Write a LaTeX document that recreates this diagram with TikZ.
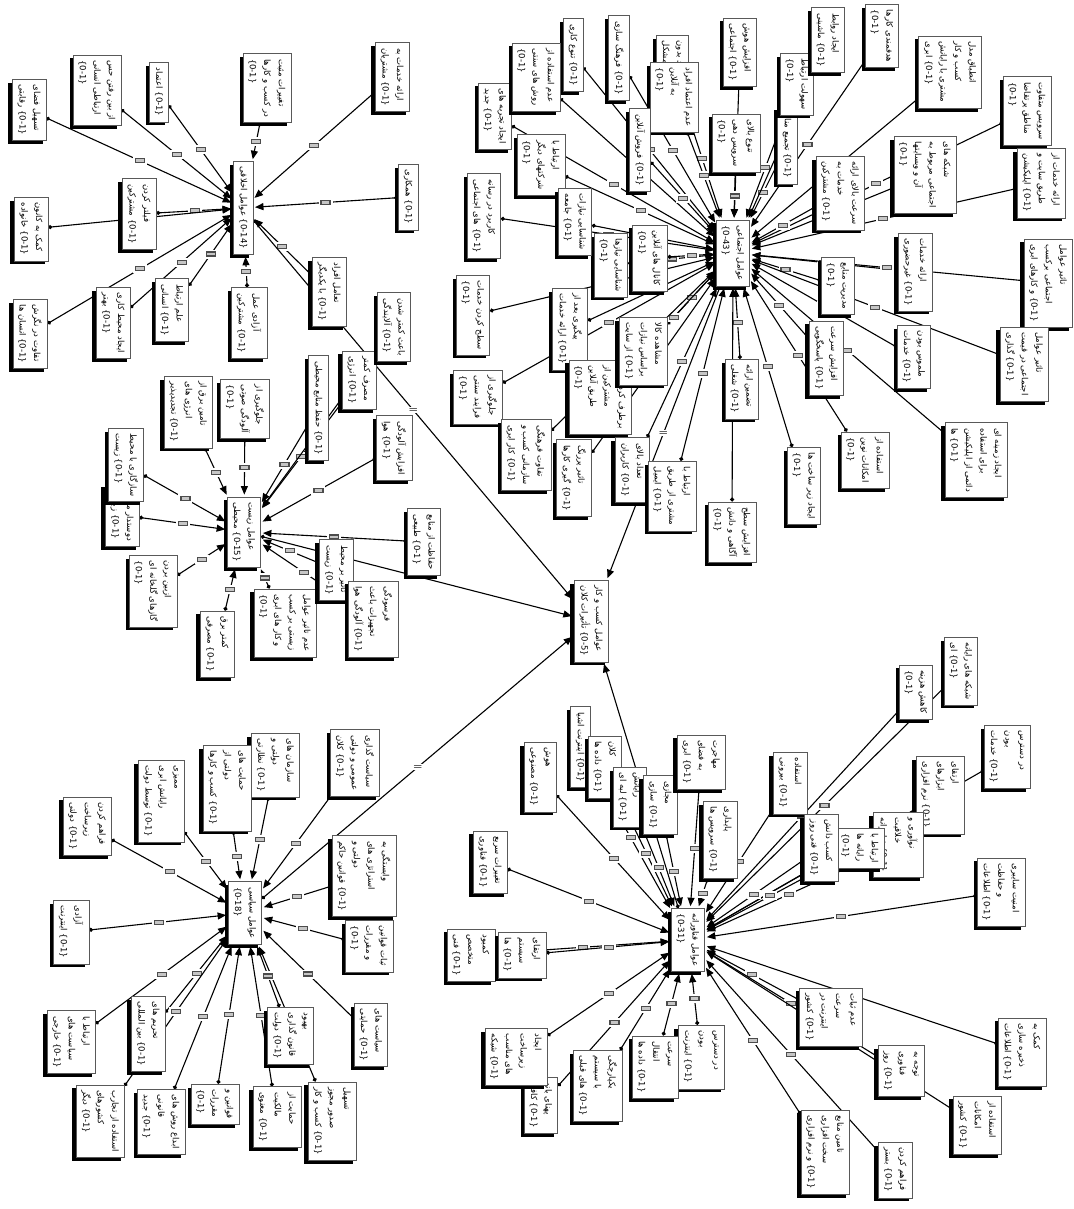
\documentclass[tikz,border=0pt]{standalone}
\usepackage{fontspec}
\newfontfamily\fafont[Script=Arabic]{DejaVu Sans}
\TeXXeTstate=1
\usetikzlibrary{arrows.meta,shadows}
\pgfdeclarelayer{bg}
\pgfsetlayers{bg,main}
\newcommand\FA[1]{\beginR #1\endR}
\tikzset{
  code/.style={draw=black!65, fill=white, rotate=-90, align=left, inner sep=5.5pt,
    font=\fafont\fontsize{8.5}{14.5}\selectfont,
    drop shadow={shadow xshift=-3.5pt, shadow yshift=-3.5pt, fill=black, opacity=1}},
  link/.style={{Circle[length=4pt]}-{Triangle[length=8.5pt,width=7pt]}, line width=1.1pt, shorten >=2pt},
  rel/.style={draw=black!70, fill=gray!45, minimum width=9pt, minimum height=4pt, inner sep=0pt, preaction={draw=white, line width=5pt}},
  eqrel/.style={fill=white, inner sep=1pt, font=\bfseries}
}
\begin{document}
\begin{tikzpicture}[x=1pt,y=-1pt]
\useasboundingbox (0,0) rectangle (1073,1209);

% hubs
\node[code] (akhl) at (243,208) {\FA{عوامل اخلاقی} \{0-14\}};
\node[code] (ejt) at (733,253) {\FA{عوامل اجتماعی}\\\{0-43\}};
\node[code] (zist) at (244,532) {\FA{عوامل زیست}\\\FA{محیطی} \{0-15\}};
\node[code] (siasi) at (245,913) {\FA{عوامل سیاسی}\\\{0-18\}};
\node[code] (fan) at (688,940) {\FA{عوامل فناورانه}\\\{0-31\}};
\node[code] (kol) at (591,621) {\FA{عوامل کسب و کار}\\\FA{تأثیرات کلان} \{0-5\}};

% akhlaghi
\node[code] (a1) at (29,110) {\FA{تسهیل فضای}\\\FA{رقابتی} \{0-1\}};
\node[code] (a2) at (97,90) {\FA{از بین رفتن حس}\\\FA{ارتباطی انسانی}\\\{0-1\}};
\node[code] (a3) at (159,92) {\FA{اعتماد} \{0-1\}};
\node[code] (a4) at (267,88) {\FA{تغییرات مثبت}\\\FA{در کسب و کارها}\\\{0-1\}};
\node[code] (a5) at (392,77) {\FA{ارائه خدمات به}\\\FA{مشتریان} \{0-1\}};
\node[code] (a6) at (408,197) {\FA{همکاری} \{0-1\}};
\node[code] (a7) at (139,214) {\FA{فیلتر کردن}\\\FA{مشترکین} \{0-1\}};
\node[code] (a8) at (31,229) {\FA{کمک به کانون}\\\FA{خانواده} \{0-1\}};
\node[code] (a9) at (30,334) {\FA{تفاوت در نگرش}\\\FA{انسان ها} \{0-1\}};
\node[code] (a10) at (113,323) {\FA{ایجاد محیط کاری}\\\FA{بهتر} \{0-1\}};
\node[code] (a11) at (172,310) {\FA{علم ارتباط}\\\FA{انسانی} \{0-1\}};
\node[code] (a12) at (249,323) {\FA{آزادی عمل}\\\FA{مشترکین} \{0-1\}};
\node[code] (a13) at (329,292) {\FA{تعامل افراد}\\\FA{با یکدیگر} \{0-1\}};

% ejtemaei
\node[code] (e1) at (573,55) {\FA{تنوع کاری} \{0-1\}};
\node[code] (e3) at (495,116) {\FA{ایجاد تجربه های}\\\FA{جدید} \{0-1\}};
\node[code] (e2) at (536,77) {\FA{عدم استفاده از}\\\FA{روش های سنتی}\\\{0-1\}};
\node[code] (e4) at (619,58) {\FA{فرهنگ سازی} \{0-1\}};
\node[code] (e5) at (672,66) {\FA{خرید بدون}\\\FA{مشکل} \{0-1\}};
\node[code] (e6) at (674,97) {\FA{عدم اعتماد افراد}\\\FA{به آنلاین}\\\{0-1\}};
\node[code] (e7) at (740,52) {\FA{افزایش هوش}\\\FA{اجتماعی} \{0-1\}};
\node[code] (e8) at (736,143) {\FA{تنوع بالای}\\\FA{سرویس دهی}\\\{0-1\}};
\node[code] (e9) at (787,145) {\FA{تجمیع منابع} \{0-1\}};
\node[code] (e10) at (797,84) {\FA{سهولت ارتباط}\\\{0-1\}};
\node[code] (e11) at (828,40) {\FA{ایجاد روابط}\\\FA{ماشینی} \{0-1\}};
\node[code] (e12) at (882,36) {\FA{هدفمندی کارها}\\\{0-1\}};
\node[code] (e13) at (950,72) {\FA{انطباق مدل}\\\FA{کسب و کار}\\\FA{مشتری با رایانش}\\\FA{ابری} \{0-1\}};
\node[code] (e14) at (1027,111) {\FA{سرویس متفاوت}\\\FA{مناطق پرتقاضا}\\\{0-1\}};
\node[code] (e15) at (925,175) {\FA{شبکه های}\\\FA{اجتماعی مربوط به}\\\FA{آن و وبسایتها}\\\{0-1\}};
\node[code] (e16) at (1041,183) {\FA{ارائه خدمات از}\\\FA{طریق سایت و}\\\FA{اپلیکیشن} \{0-1\}};
\node[code] (e17) at (840,193) {\FA{سرعت بالای ارائه}\\\FA{خدمات به}\\\FA{مشترکین} \{0-1\}};
\node[code] (e18) at (915,272) {\FA{ارائه خدمات}\\\FA{غیرحضوری} \{0-1\}};
\node[code] (e19) at (1048,283) {\FA{تاثیر عوامل}\\\FA{اجتماعی برکسب}\\\FA{و کارهای ابری} \{0-1\}};
\node[code] (e20) at (838,286) {\FA{مدیریت منابع}\\\{0-1\}};
\node[code] (e21) at (914,357) {\FA{ملموس بودن}\\\FA{خدمات} \{0-1\}};
\node[code] (e22) at (1024,364) {\FA{تاثیر عوامل}\\\FA{اجتماعی در قیمت}\\\FA{گذاری} \{0-1\}};
\node[code] (e23) at (826,358) {\FA{افزایش سرعت}\\\FA{پاسخگویی} \{0-1\}};
\node[code] (e24) at (865,460) {\FA{استفاده از}\\\FA{امکانات نوین}\\\{0-1\}};
\node[code] (e25) at (976,460) {\FA{ایجاد زمینه ای}\\\FA{برای استفاده}\\\FA{دائمی از اپلیکیشن}\\\FA{ها} \{0-1\}};
\node[code] (e26) at (804,486) {\FA{ایجاد زیر ساخت ها}\\\{0-1\}};
\node[code] (e27) at (541,165) {\FA{ارتباط با}\\\FA{شرکتهای دیگر}\\\{0-1\}};
\node[code] (e28) at (640,150) {\FA{فروش آنلاین} \{0-1\}};
\node[code] (e29) at (484,216) {\FA{کاربرد در رسانه}\\\FA{های اجتماعی} \{0-1\}};
\node[code] (e31) at (611,265) {\FA{شناسایی نیازها}\\\{0-1\}};
\node[code] (e30) at (575,222) {\FA{شناسایی نیازات}\\\FA{جامعه} \{0-1\}};
\node[code] (e32) at (650,258) {\FA{کانال های آنلاین}\\\{0-1\}};
\node[code] (e33) at (473,315) {\FA{سطح کردن خدمات}\\\{0-1\}};
\node[code] (e34) at (570,329) {\FA{پیگیری بعد از}\\\FA{ارائه خدمات} \{0-1\}};
\node[code] (e37) at (600,397) {\FA{برطرف کردن نیاز}\\\FA{مشترکین از}\\\FA{طریق آنلاین}\\\{0-1\}};
\node[code] (e35) at (643,351) {\FA{مشاهده کالا}\\\FA{براساس نیازات}\\\FA{از سایت} \{0-1\}};
\node[code] (e36) at (478,397) {\FA{جلوگیری از}\\\FA{فرایند سنتی}\\\{0-1\}};
\node[code] (e38) at (526,455) {\FA{تفاوت فرهنگی}\\\FA{سازمانی کسب و}\\\FA{کار ابری} \{0-1\}};
\node[code] (e39) at (574,478) {\FA{تاثیر پررنگ}\\\FA{گیری کارها} \{0-1\}};
\node[code] (e40) at (632,470) {\FA{تعداد بالای}\\\FA{کاربران} \{0-1\}};
\node[code] (e41) at (672,496) {\FA{ارتباط با}\\\FA{مشتری از طریق}\\\FA{ایمیل} \{0-1\}};
\node[code] (e42) at (742,389) {\FA{تضمین ارائه}\\\FA{شغلی} \{0-1\}};
\node[code] (e43) at (732,532) {\FA{افزایش سطح}\\\FA{آگاهی و دانش}\\\{0-1\}};

% zist mohiti
\node[code] (z1) at (188,412) {\FA{تامین برق از}\\\FA{انرژی های}\\\FA{تجدیدپذیر} \{0-1\}};
\node[code] (z2) at (245,409) {\FA{جلوگیری از}\\\FA{آلودگی صوتی}\\\{0-1\}};
\node[code] (z3) at (318,408) {\FA{حفظ منابع محیطی} \{0-1\}};
\node[code] (z4) at (359,380) {\FA{مصرف کمتر}\\\FA{انرژی} \{0-1\}};
\node[code] (z5) at (394,327) {\FA{باعث کمتر شدن}\\\FA{آلایندگی} \{0-1\}};
\node[code] (z6) at (394,448) {\FA{افزایش آلودگی}\\\FA{هوا} \{0-1\}};
\node[code] (z8) at (122,515) {\FA{دوستدار محیط}\\\FA{زیست} \{0-1\}};
\node[code] (z7) at (126,465) {\FA{سازگاری با محیط}\\\FA{زیست} \{0-1\}};
\node[code] (z9) at (153,591) {\FA{ازبین بردن}\\\FA{گازهای گلخانه ای}\\\{0-1\}};
\node[code] (z10) at (217,644) {\FA{کمتر برق}\\\FA{مصرفی} \{0-1\}};
\node[code] (z11) at (285,623) {\FA{عدم تاثیر عوامل}\\\FA{زیستی بر کسب}\\\FA{و کار های ابری}\\\{0-1\}};
\node[code] (z12) at (336,570) {\FA{تاثیر بر محیط}\\\FA{زیست} \{0-1\}};
\node[code] (z13) at (373,619) {\FA{فرسودگی}\\\FA{تجهیزات باعث}\\\FA{آلودگی هوا} \{0-1\}};
\node[code] (z14) at (424,542) {\FA{حفاظت از منابع}\\\FA{طبیعی} \{0-1\}};

% siasi
\node[code] (s1) at (355,763) {\FA{سیاست گذاری}\\\FA{عمومی و دولتی}\\\FA{کلان} \{0-1\}};
\node[code] (s2) at (275,765) {\FA{سازمان های}\\\FA{دولتی و}\\\FA{نظارتی} \{0-1\}};
\node[code] (s3) at (227,788) {\FA{حمایت های}\\\FA{دولتی از}\\\FA{کسب و کارها} \{0-1\}};
\node[code] (s4) at (161,801) {\FA{ممیزی}\\\FA{رایانش ابری}\\\FA{توسط دولت} \{0-1\}};
\node[code] (s5) at (87,826) {\FA{فراهم کردن}\\\FA{زیرساخت}\\\FA{دولتی} \{0-1\}};
\node[code] (s6) at (71,932) {\FA{آزادی}\\\FA{اینترنت} \{0-1\}};
\node[code] (s7) at (71,1042) {\FA{ارتباط با}\\\FA{سیاست های}\\\FA{خارجی} \{0-1\}};
\node[code] (s8) at (148,1034) {\FA{تحریم های}\\\FA{بین المللی} \{0-1\}};
\node[code] (s9) at (100,1121) {\FA{استفاده از تجارب}\\\FA{کشورهای}\\\FA{دیگر} \{0-1\}};
\node[code] (s10) at (161,1122) {\FA{ابداع روش های}\\\FA{قانونی}\\\FA{جدید} \{0-1\}};
\node[code] (s11) at (215,1104) {\FA{قوانین و}\\\FA{مقررات}\\\{0-1\}};
\node[code] (s12) at (277,1117) {\FA{حمایت از}\\\FA{مالکیت}\\\FA{معنوی} \{0-1\}};
\node[code] (s13) at (332,1121) {\FA{تسهیل}\\\FA{صدور مجوز}\\\FA{کسب و کار} \{0-1\}};
\node[code] (s14) at (290,1036) {\FA{بهبود}\\\FA{قانون گذاری}\\\FA{دولت} \{0-1\}};
\node[code] (s15) at (371,1035) {\FA{سیاست های}\\\FA{حمایتی} \{0-1\}};
\node[code] (s16) at (369,946) {\FA{ثبات قوانین}\\\FA{و مقررات}\\\{0-1\}};
\node[code] (s17) at (364,876) {\FA{وابستگی به}\\\FA{استراتژی های}\\\FA{دولتی و}\\\FA{قوانین حاکم} \{0-1\}};

% fanavari
\node[code] (f1) at (961,671) {\FA{شبکه های رایانه}\\\FA{ای} \{0-1\}};
\node[code] (f2) at (916,692) {\FA{کاهش هزینه}\\\{0-1\}};
\node[code] (f3) at (1007,757) {\FA{در دسترس}\\\FA{بودن}\\\FA{خدمات} \{0-1\}};
\node[code] (f4) at (940,795) {\FA{ارتقای}\\\FA{ابزارهای}\\\FA{نرم افزاری} \{0-1\}};
\node[code] (f5) at (898,845) {\FA{نوآوری و}\\\FA{خلاقیت}\\\FA{فناورانه} \{0-1\}};
\node[code] (f6) at (860,848) {\FA{ارتباط با}\\\FA{رایانه ها}\\\{0-1\}};
\node[code] (f7) at (790,783) {\FA{استفاده}\\\FA{بیرونی} \{0-1\}};
\node[code] (f8) at (821,848) {\FA{کسب دانش}\\\FA{فنی روز} \{0-1\}};
\node[code] (f9) at (1001,892) {\FA{امنیت سایبری}\\\FA{و حفاظت}\\\FA{اطلاعات} \{0-1\}};
\node[code] (f10) at (831,1017) {\FA{عدم ثبات}\\\FA{سرعت}\\\FA{اینترنت در}\\\FA{کشور} \{0-1\}};
\node[code] (f11) at (1022,1052) {\FA{کمک به}\\\FA{ذخیره سازی}\\\FA{اطلاعات} \{0-1\}};
\node[code] (f12) at (901,1071) {\FA{توجه به}\\\FA{فناوری}\\\FA{روز} \{0-1\}};
\node[code] (f13) at (977,1125) {\FA{استفاده از}\\\FA{امکانات}\\\FA{کشور} \{0-1\}};
\node[code] (f14) at (895,1170) {\FA{فراهم کردن}\\\FA{بستر} \{0-1\}};
\node[code] (f15) at (825,1152) {\FA{تامین منابع}\\\FA{سخت افزاری}\\\FA{و نرم افزاری} \{0-1\}};
\node[code] (f16) at (701,1057) {\FA{در دسترس}\\\FA{بودن}\\\FA{اینترنت} \{0-1\}};
\node[code] (f17) at (655,1067) {\FA{سرعت}\\\FA{انتقال}\\\FA{داده ها} \{0-1\}};
\node[code] (f18) at (598,1086) {\FA{یکپارچگی}\\\FA{با سیستم}\\\FA{های قبلی} \{0-1\}};
\node[code] (f19) at (541,1105) {\FA{پهنای باند}\\\FA{کافی} \{0-1\}};
\node[code] (f20) at (516,1057) {\FA{ایجاد}\\\FA{زیرساخت}\\\FA{های مناسب}\\\FA{شبکه} \{0-1\}};
\node[code] (f21) at (471,955) {\FA{کمبود}\\\FA{متخصص}\\\FA{فنی} \{0-1\}};
\node[code] (f22) at (522,955) {\FA{ارتقای}\\\FA{سیستم}\\\FA{ها} \{0-1\}};
\node[code] (f23) at (490,862) {\FA{تغییرات سریع}\\\FA{فناوری} \{0-1\}};
\node[code] (f24) at (540,777) {\FA{هوش}\\\FA{مصنوعی} \{0-1\}};
\node[code] (f25) at (580,747) {\FA{اینترنت اشیا} \{0-1\}};
\node[code] (f26) at (605,767) {\FA{کلان}\\\FA{داده ها} \{0-1\}};
\node[code] (f27) at (630,797) {\FA{رایانش}\\\FA{لبه ای} \{0-1\}};
\node[code] (f28) at (660,805) {\FA{مجازی}\\\FA{سازی} \{0-1\}};
\node[code] (f29) at (701,762) {\FA{مهاجرت}\\\FA{به فضای}\\\FA{ابری} \{0-1\}};
\node[code] (f30) at (720,840) {\FA{پایداری}\\\FA{سرویس ها} \{0-1\}};

\begin{pgfonlayer}{bg}
\foreach \i in {1,...,13} \draw[link] (a\i) -- node[rel]{} (akhl);
\foreach \i in {1,...,43} \draw[link] (e\i) -- node[rel]{} (ejt);
\foreach \i in {1,...,14} \draw[link] (z\i) -- node[rel]{} (zist);
\foreach \i in {1,...,17} \draw[link] (s\i) -- node[rel]{} (siasi);
\foreach \i in {1,...,30} \draw[link] (f\i) -- node[rel]{} (fan);
\foreach \h in {akhl,ejt,zist,siasi,fan} \draw[link] (\h) -- node[eqrel]{=} (kol);
\end{pgfonlayer}
\end{tikzpicture}
\end{document}
